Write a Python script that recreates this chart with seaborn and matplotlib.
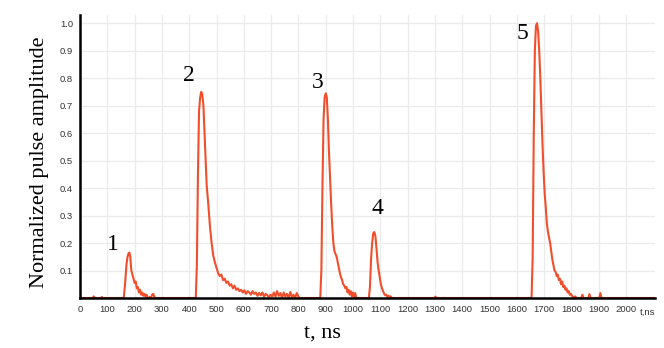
import numpy as np
import pandas as pd
import matplotlib
matplotlib.use('Agg')
import matplotlib.pyplot as plt
import seaborn as sns

# Pulse traces (t in ns, normalized amplitude)
noise_t = [0, 48, 50, 52, 78, 80, 82]
noise_a = [0, 0, 0.006, 0, 0, 0.004, 0]

pulse1_t = [160, 165, 170, 174, 178, 181, 184, 188, 192, 196, 200, 204, 208, 212, 216,
            220, 224, 228, 232, 236, 240, 244, 248, 252, 256, 260, 264, 268, 272, 276]
pulse1_a = [0, 0.05, 0.12, 0.15, 0.163, 0.165, 0.15, 0.10, 0.085, 0.07, 0.055, 0.06, 0.035, 0.04, 0.02,
            0.03, 0.012, 0.02, 0.008, 0.015, 0.005, 0.012, 0.0, 0.0, 0.004, 0.0, 0.012, 0.015, 0.005, 0]

pulse2_t = [424, 428, 432, 436, 440, 444, 448, 452, 456, 460, 464,
            470, 476, 482, 488, 494, 500, 506, 512, 518, 524, 530, 536, 542, 548, 554, 560,
            566, 572, 578, 584, 590, 596, 602, 608, 614, 620, 626, 632, 638, 644, 650, 656,
            662, 668, 674, 680, 686, 692, 698, 704, 710, 716, 722, 728, 734, 740, 746, 752,
            758, 764, 770, 776, 782, 788, 794, 800, 804]
pulse2_a = [0, 0.12, 0.45, 0.68, 0.73, 0.75, 0.74, 0.70, 0.60, 0.50, 0.41,
            0.34, 0.26, 0.20, 0.155, 0.13, 0.11, 0.09, 0.08, 0.085, 0.065, 0.07, 0.055, 0.06, 0.045, 0.05, 0.035,
            0.045, 0.03, 0.035, 0.025, 0.03, 0.02, 0.028, 0.015, 0.025, 0.02, 0.012, 0.025, 0.015, 0.02, 0.008, 0.018,
            0.01, 0.02, 0.005, 0.015, 0.01, 0.003, 0.012, 0.005, 0.02, 0.005, 0.025, 0.008, 0.018, 0.0, 0.02, 0.005,
            0.015, 0.0, 0.022, 0.003, 0.012, 0.0, 0.018, 0.005, 0]

pulse3_t = [880, 884, 888, 892, 896, 900, 904, 908, 912, 916, 920, 924, 928, 932, 936, 940, 944, 948,
            952, 956, 960, 964, 968, 972, 976, 980, 984, 988, 992, 996, 1000, 1004, 1008, 1012, 1016]
pulse3_a = [0, 0.10, 0.40, 0.65, 0.73, 0.745, 0.73, 0.65, 0.53, 0.43, 0.34, 0.26, 0.20, 0.17, 0.16, 0.15, 0.13, 0.11,
            0.09, 0.075, 0.065, 0.05, 0.045, 0.035, 0.04, 0.02, 0.03, 0.012, 0.025, 0.005, 0.02, 0.0, 0.018, 0.0, 0]

pulse4_t = [1058, 1062, 1066, 1070, 1074, 1078, 1082, 1086, 1090, 1094, 1098, 1102, 1106, 1110, 1114,
            1118, 1122, 1126, 1130, 1134, 1138, 1142, 1298, 1302, 1306]
pulse4_a = [0, 0.04, 0.14, 0.20, 0.235, 0.24, 0.225, 0.18, 0.13, 0.10, 0.075, 0.05, 0.035, 0.025, 0.015,
            0.01, 0.012, 0.004, 0.008, 0.003, 0.006, 0, 0, 0.005, 0]

pulse5_t = [1654, 1658, 1662, 1666, 1670, 1674, 1678, 1682, 1686, 1690, 1694, 1698, 1702, 1706, 1710,
            1714, 1718, 1722, 1726, 1730, 1734, 1738, 1742, 1746, 1750, 1754, 1758, 1762, 1766, 1770,
            1774, 1778, 1782, 1786, 1790, 1794, 1798, 1802,
            1806, 1810, 1814, 1818, 1836, 1840, 1844, 1862, 1866, 1870, 1902, 1906, 1910, 2105]
pulse5_a = [0, 0.15, 0.60, 0.90, 0.99, 1.0, 0.97, 0.90, 0.80, 0.68, 0.56, 0.46, 0.38, 0.33, 0.27,
            0.24, 0.22, 0.20, 0.17, 0.14, 0.12, 0.10, 0.095, 0.08, 0.085, 0.065, 0.07, 0.05, 0.06, 0.04,
            0.045, 0.03, 0.035, 0.02, 0.025, 0.012, 0.015, 0.008,
            0.003, 0.0, 0.006, 0.0, 0.0, 0.012, 0.0, 0.0, 0.014, 0.0, 0.0, 0.018, 0.0, 0]

peak_labels = ['1', '2', '3', '4', '5']
label_t = [121, 399, 872, 1088, 1619]
label_a = [0.193, 0.811, 0.785, 0.327, 0.964]

x_ticks = list(range(0, 2001, 100))
y_ticks = [0.1, 0.2, 0.3, 0.4, 0.5, 0.6, 0.7, 0.8, 0.9, 1.0]

t_parts = [noise_t, pulse1_t, pulse2_t, pulse3_t, pulse4_t, pulse5_t]
a_parts = [noise_a, pulse1_a, pulse2_a, pulse3_a, pulse4_a, pulse5_a]
for tt, aa in zip(t_parts, a_parts):
    assert len(tt) == len(aa), (len(tt), len(aa))

df = pd.DataFrame({'t': sum(t_parts, []), 'amp': sum(a_parts, [])})

sns.set_style('white')
plt.rcParams['font.family'] = ['Liberation Sans', 'DejaVu Sans']

fig = plt.figure(figsize=(6.64, 3.48), dpi=100)
ax = fig.add_axes([0.1205, 0.1437, 0.8655, 0.8133])

sns.lineplot(data=df, x='t', y='amp', ax=ax, color='#f24e2b', linewidth=1.5,
             estimator=None, sort=False)

ax.set_xlim(0, 2105)
ax.set_ylim(0, 1.03)
ax.set_xticks(x_ticks)
ax.set_xticklabels([str(v) for v in x_ticks])
ax.set_yticks(y_ticks)
ax.set_yticklabels(['%.1f' % v for v in y_ticks])
ax.grid(True, color='#ebebeb', linewidth=0.9)
ax.set_axisbelow(True)
ax.tick_params(axis='both', length=0, labelsize=6.8, labelcolor='#333333', pad=5)
ax.set_xlabel('')
ax.set_ylabel('')

for side in ['top', 'right']:
    ax.spines[side].set_visible(False)
for side in ['left', 'bottom']:
    ax.spines[side].set_color('black')
    ax.spines[side].set_linewidth(1.8)

# "t,ns" sits after the last tick label
ax.text(2080, -0.035, 't,ns', fontsize=6.8, color='#333333', ha='center', va='top')

# peak numbers
for lab, tx, ay in zip(peak_labels, label_t, label_a):
    ax.text(tx, ay, lab, fontsize=17, family='Liberation Serif', color='black',
            ha='center', va='center')

fig.text(0.0602, 0.535, 'Normalized pulse amplitude', rotation=90, fontsize=16,
         family='Liberation Serif', color='black', ha='center', va='center')
fig.text(0.485, 0.043, 't, ns', fontsize=16, family='Liberation Serif', color='black',
         ha='center', va='center')

fig.savefig('out.png', dpi=100)
